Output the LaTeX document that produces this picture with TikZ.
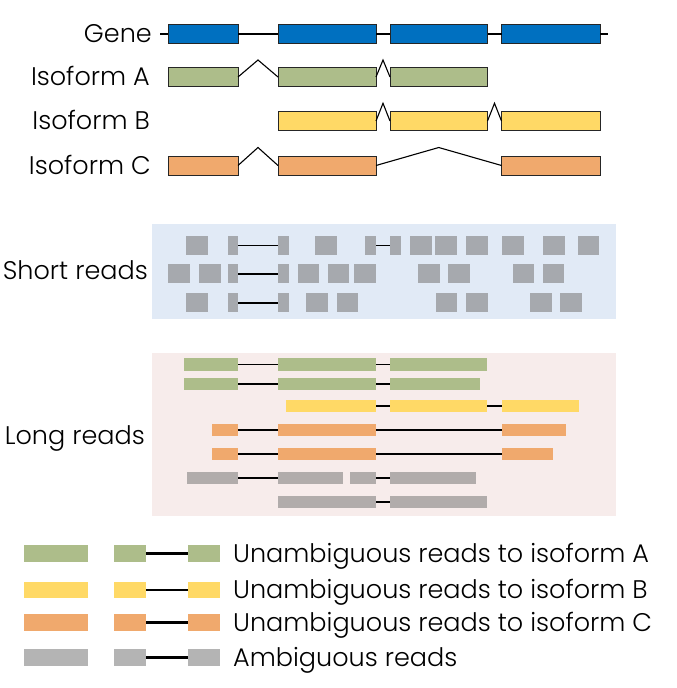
\documentclass[tikz,border=0pt]{standalone}
\usepackage{fontspec}
\setmainfont{Poppins}[UprightFont=* Light]
\usetikzlibrary{calc}
\definecolor{genecol}{HTML}{0070C0}
\definecolor{isoA}{HTML}{ADBD8A}
\definecolor{isoB}{HTML}{FFD966}
\definecolor{isoC}{HTML}{F0A96D}
\definecolor{readgrey}{HTML}{A6A9AE}
\definecolor{longgrey}{HTML}{B1ACAB}
\definecolor{keygrey}{HTML}{B4B4B4}
\definecolor{shortbg}{HTML}{E1EAF6}
\definecolor{longbg}{HTML}{F7ECEB}
\tikzset{
    exon/.style={draw=black!85,line width=0.9pt,inner sep=0pt,outer sep=0pt,minimum height=19pt},
    sread/.style={fill=readgrey,inner sep=0pt,outer sep=0pt,minimum height=19pt},
    lread/.style={inner sep=0pt,outer sep=0pt,minimum height=12.3pt},
    keybox/.style={inner sep=0pt,outer sep=0pt,minimum height=16.7pt},
    intron/.style={line width=1.1pt},
    junction/.style={line width=1.6pt},
    keyline/.style={line width=2.6pt},
    lbl/.style={inner sep=0pt,text height=17.8pt,text depth=0pt,font=\fontsize{25.5}{30}\selectfont}
}
% style, name, left, right, y
\newcommand{\seg}[5]{
    \node[#1,minimum width={(#4-#3)*1pt}] (#2) at ({(#3+#4)/2},#5) {};
}
% one full short read: name, left, y
\newcommand{\shortread}[3]{
    \node[sread,minimum width=21.5pt] (#1) at (#2+10.75,#3) {};
}
% spliced connector with a peak: from, to, rise
\newcommand{\intron}[3]{
    \draw[intron] (#1.east) -- ($(#1.east)!0.5!(#2.west)+(0,-#3)$) -- (#2.west);
}

\begin{document}
\begin{tikzpicture}[x=1pt,y=-1pt]
    \useasboundingbox (0,0) rectangle (677,688);

    % gene and isoforms
    \node[lbl,anchor=east] (genelbl) at (152,34) {Gene};
    \node[lbl,anchor=east] (isoAlbl) at (150,77) {Isoform A};
    \node[lbl,anchor=east] (isoBlbl) at (150,121) {Isoform B};
    \node[lbl,anchor=east] (isoClbl) at (151,165.5) {Isoform C};

    \coordinate (g0) at (160,34);
    \coordinate (g5) at (608,34);
    \seg{exon,fill=genecol}{g1}{168}{238}{34}
    \seg{exon,fill=genecol}{g2}{278}{376}{34}
    \seg{exon,fill=genecol}{g3}{390}{487.5}{34}
    \seg{exon,fill=genecol}{g4}{501.5}{600}{34}
    \draw[intron] (g0) -- (g1.west) (g1.east) -- (g2.west) (g2.east) -- (g3.west)
        (g3.east) -- (g4.west) (g4.east) -- (g5);

    \seg{exon,fill=isoA}{a1}{168}{238}{77}
    \seg{exon,fill=isoA}{a2}{278}{376}{77}
    \seg{exon,fill=isoA}{a3}{390}{487.5}{77}
    \intron{a1}{a2}{17}
    \intron{a2}{a3}{17}

    \seg{exon,fill=isoB}{b1}{278}{376}{121}
    \seg{exon,fill=isoB}{b2}{390}{487.5}{121}
    \seg{exon,fill=isoB}{b3}{501.5}{600}{121}
    \intron{b1}{b2}{17.7}
    \intron{b2}{b3}{17.7}

    \seg{exon,fill=isoC}{c1}{168}{238}{165.5}
    \seg{exon,fill=isoC}{c2}{278}{376}{165.5}
    \seg{exon,fill=isoC}{c3}{501.5}{600}{165.5}
    \intron{c1}{c2}{18}
    \intron{c2}{c3}{18}

    % short reads
    \fill[shortbg] (152,224) rectangle (616,318.5);
    \node[lbl,anchor=east] (shortlbl) at (148,271) {Short reads};

    \shortread{s11}{186}{245.3}
    \seg{sread}{s12}{227.7}{238.3}{245.3}
    \seg{sread}{s13}{278.3}{289}{245.3}
    \shortread{s14}{315}{245.3}
    \seg{sread}{s15}{365}{376}{245.3}
    \seg{sread}{s16}{390}{400.7}{245.3}
    \shortread{s17}{410}{245.3}
    \shortread{s18}{435}{245.3}
    \shortread{s19}{466}{245.3}
    \shortread{s110}{502}{245.3}
    \shortread{s111}{543.3}{245.3}
    \shortread{s112}{577.7}{245.3}
    \draw[junction] (s12) -- (s13) (s15) -- (s16);

    \shortread{s21}{168.3}{273.8}
    \shortread{s22}{199}{273.8}
    \seg{sread}{s23}{227.7}{238.3}{273.8}
    \seg{sread}{s24}{278.3}{289}{273.8}
    \shortread{s25}{297.7}{273.8}
    \shortread{s26}{327.7}{273.8}
    \shortread{s27}{354.3}{273.8}
    \shortread{s28}{418.3}{273.8}
    \shortread{s29}{448.3}{273.8}
    \shortread{s210}{512.7}{273.8}
    \shortread{s211}{542.7}{273.8}
    \draw[junction] (s23) -- (s24);

    \shortread{s31}{186}{302.8}
    \seg{sread}{s32}{227.7}{238.3}{302.8}
    \seg{sread}{s33}{278.3}{289}{302.8}
    \shortread{s34}{306}{302.8}
    \shortread{s35}{336.7}{302.8}
    \shortread{s36}{435.7}{302.8}
    \shortread{s37}{466}{302.8}
    \shortread{s38}{530}{302.8}
    \shortread{s39}{560.3}{302.8}
    \draw[junction] (s32) -- (s33);

    % long reads
    \fill[longbg] (152,353.3) rectangle (616,515.7);
    \node[lbl,anchor=east] (longlbl) at (145,436) {Long reads};

    \seg{lread,fill=isoA}{l11}{184.3}{238.3}{364.5}
    \seg{lread,fill=isoA}{l12}{278.3}{376}{364.5}
    \seg{lread,fill=isoA}{l13}{390}{487.3}{364.5}
    \draw[junction] (l11) -- (l12) (l12) -- (l13);

    \seg{lread,fill=isoA}{l21}{184.3}{238.3}{384.2}
    \seg{lread,fill=isoA}{l22}{278.3}{376}{384.2}
    \seg{lread,fill=isoA}{l23}{390}{480.3}{384.2}
    \draw[junction] (l21) -- (l22) (l22) -- (l23);

    \seg{lread,fill=isoB}{l31}{285.7}{376}{405.8}
    \seg{lread,fill=isoB}{l32}{390}{487.3}{405.8}
    \seg{lread,fill=isoB}{l33}{501.7}{579}{405.8}
    \draw[junction] (l31) -- (l32) (l32) -- (l33);

    \seg{lread,fill=isoC}{l41}{212.3}{238.3}{429.8}
    \seg{lread,fill=isoC}{l42}{278.3}{376}{429.8}
    \seg{lread,fill=isoC}{l43}{501.7}{565.7}{429.8}
    \draw[junction] (l41) -- (l42) (l42) -- (l43);

    \seg{lread,fill=isoC}{l51}{212.3}{238.3}{453.8}
    \seg{lread,fill=isoC}{l52}{278.3}{376}{453.8}
    \seg{lread,fill=isoC}{l53}{501.7}{553.3}{453.8}
    \draw[junction] (l51) -- (l52) (l52) -- (l53);

    \seg{lread,fill=longgrey}{l61}{186.7}{238.3}{478.2}
    \seg{lread,fill=longgrey}{l62}{278.3}{342.7}{478.2}
    \seg{lread,fill=longgrey}{l63}{350}{376}{478.2}
    \seg{lread,fill=longgrey}{l64}{390}{476}{478.2}
    \draw[junction] (l61) -- (l62) (l63) -- (l64);

    \seg{lread,fill=longgrey}{l71}{278.3}{376}{502}
    \seg{lread,fill=longgrey}{l72}{390}{487.3}{502}
    \draw[junction] (l71) -- (l72);

    % key
    \seg{keybox,fill=isoA}{ka}{24}{88.3}{553.3}
    \seg{keybox,fill=isoA}{ka1}{114}{146}{553.3}
    \seg{keybox,fill=isoA}{ka2}{187.7}{220}{553.3}
    \draw[keyline] (ka1) -- (ka2);
    \node[lbl,anchor=west] (katext) at (233,553.3) {Unambiguous reads to isoform A};

    \seg{keybox,fill=isoB}{kb}{24}{88.3}{590}
    \seg{keybox,fill=isoB}{kb1}{114}{146}{590}
    \seg{keybox,fill=isoB}{kb2}{187.7}{220}{590}
    \draw[keyline] (kb1) -- (kb2);
    \node[lbl,anchor=west] (kbtext) at (233,590) {Unambiguous reads to isoform B};

    \seg{keybox,fill=isoC}{kc}{24}{88.3}{622.7}
    \seg{keybox,fill=isoC}{kc1}{114}{146}{622.7}
    \seg{keybox,fill=isoC}{kc2}{187.7}{220}{622.7}
    \draw[keyline] (kc1) -- (kc2);
    \node[lbl,anchor=west] (kctext) at (233,622.7) {Unambiguous reads to isoform C};

    \seg{keybox,fill=keygrey}{kd}{24}{88.3}{657.5}
    \seg{keybox,fill=keygrey}{kd1}{114}{146}{657.5}
    \seg{keybox,fill=keygrey}{kd2}{187.7}{220}{657.5}
    \draw[keyline] (kd1) -- (kd2);
    \node[lbl,anchor=west] (kdtext) at (233,657.5) {Ambiguous reads};
\end{tikzpicture}
\end{document}
